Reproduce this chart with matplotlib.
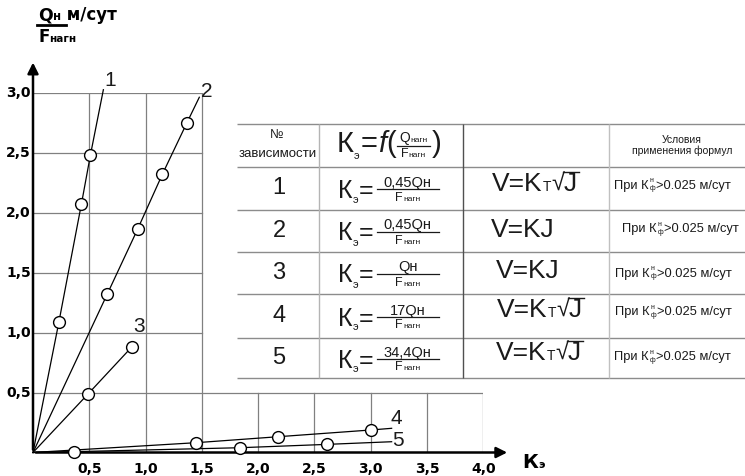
import numpy as np
import matplotlib.pyplot as plt

# -------- data --------
x_ticks = [0.5, 1.0, 1.5, 2.0, 2.5, 3.0, 3.5, 4.0]
x_labels = ['0,5', '1,0', '1,5', '2,0', '2,5', '3,0', '3,5', '4,0']
y_ticks = [0.5, 1.0, 1.5, 2.0, 2.5, 3.0]
y_labels = ['0,5', '1,0', '1,5', '2,0', '2,5', '3,0']

# measured points (Kэ, Qн/Fнагн)
k1 = [0.23, 0.43, 0.51]
q1 = [1.09, 2.075, 2.485]
k2 = [0.66, 0.93, 1.15, 1.365]
q2 = [1.324, 1.867, 2.326, 2.75]
k3 = [0.49, 0.876]
q3 = [0.49, 0.88]
k4 = [1.45, 2.18, 3.0]
q4 = [0.082, 0.132, 0.188]
k5 = [0.365, 1.84, 2.615]
q5 = [0.007, 0.04, 0.068]

# where each drawn line stops
end_k = [0.625, 1.477, 0.876, 3.185, 3.185]
end_q = [3.03, 2.967, 0.88, 0.202, 0.09]
curve_names = ['1', '2', '3', '4', '5']

# table contents
row_no = ['1', '2', '3', '4', '5']
ke_numer = ['0,45Qн', '0,45Qн', 'Qн', '17Qн', '34,4Qн']
v_root = [True, False, False, True, True]   # V=KT√J or V=KJ
cond_text = '>0.025 м/сут'

# -------- layout --------
fig = plt.figure(figsize=(7.45, 4.76), dpi=100)
ax = fig.add_axes([33 / 745, 23.5 / 476, 450.4 / 745, 359.2 / 476])
ax.set_xlim(0, 4)
ax.set_ylim(0, 3)
ax.axis('off')

ov = fig.add_axes([0, 0, 1, 1], zorder=3)
ov.set_xlim(0, 745)
ov.set_ylim(476, 0)
ov.axis('off')

r = fig.canvas.get_renderer()
tc = '#1a1a1a'
sans = ['Liberation Sans', 'DejaVu Sans']
heavy = 'DejaVu Sans'


def run(x, y, parts, center=False, **kw):
    items = []
    x0 = x
    for p in parts:
        s, size, dy = p[:3]
        extra = dict(kw)
        if len(p) > 3:
            extra.update(p[3])
        t = ov.text(x, y + dy, s, fontsize=size, va='baseline', ha='left', **extra)
        items.append(t)
        x += t.get_window_extent(r).width
    if center:
        half = (x - x0) / 2
        for t in items:
            t.set_x(t.get_position()[0] - half)
    return x


# -------- grid (L-shaped) --------
gc = '#808080'
for v in x_ticks:
    top = 3.0 if v <= 1.5 else 0.5
    ax.plot([v, v], [0, top], color=gc, lw=0.9, zorder=1)
for v in y_ticks:
    right = 4.0 if v <= 0.5 else 1.5
    ax.plot([0, right], [v, v], color=gc, lw=0.9, zorder=1)

# -------- axes with arrows --------
ax.annotate('', xy=(0, 3.28), xytext=(0, 0), annotation_clip=False,
            arrowprops=dict(arrowstyle='-|>', lw=1.8, color='black', mutation_scale=16))
ax.annotate('', xy=(4.236, 0), xytext=(0, 0), annotation_clip=False,
            arrowprops=dict(arrowstyle='-|>', lw=1.8, color='black', mutation_scale=16))

for v, s in zip(x_ticks, x_labels):
    ax.text(v, -0.14, s, ha='center', va='center', fontsize=10, fontweight='bold',
            family=heavy, clip_on=False)
for v, s in zip(y_ticks, y_labels):
    ax.text(-0.02, v, s, ha='right', va='center', fontsize=10, fontweight='bold',
            family=heavy, clip_on=False)

# -------- curves --------
ks = [k1, k2, k3, k4, k5]
qs = [q1, q2, q3, q4, q5]
for k, q, ek, eq in zip(ks, qs, end_k, end_q):
    ax.plot([0] + k + [ek], [0] + q + [eq], color='black', lw=0.9, clip_on=False, zorder=3)
    ax.plot(k, q, 'o', mfc='white', mec='black', ms=8.5, mew=1.0, clip_on=False, zorder=4)

label_pos = [(0.684, 3.105), (1.542, 3.013), (0.944, 1.05), (3.224, 0.286), (3.245, 0.099)]
for name, (lx, ly) in zip(curve_names, label_pos):
    ax.text(lx, ly, name, ha='center', va='center', fontsize=15, family=sans,
            color=tc, clip_on=False)

# -------- axis titles --------
run(38, 20.5, [('Q', 12.5, 0), ('н', 8.5, 0), (' м/сут', 12, 0)],
    fontweight='bold', family=heavy, color='black')
ov.plot([37, 66], [24.5, 24.5], color='black', lw=2)
run(38, 41.5, [('F', 12, 0), ('нагн', 7.5, 0)], fontweight='bold', family=heavy, color='black')
run(522, 468, [('К', 14, 0), ('э', 8, 0)], fontweight='bold', family=heavy, color='black')

# -------- table --------
row_lines = [124, 167, 210, 252, 294, 338, 378]
ov.fill_between([237, 745], 124, 378, color='white', zorder=0)
ov.hlines(row_lines, 237, 745, color='#8c8c8c', lw=1)
ov.vlines(319, 124, 378, color='#b4b4b4', lw=1)
ov.vlines(463, 124, 378, color='#505050', lw=1)
ov.vlines(609, 124, 378, color='#c0c0c0', lw=1)

# header
ov.text(277, 135, '№', ha='center', va='center', fontsize=9, family=sans, color=tc)
ov.text(278, 154, 'зависимости', ha='center', va='center', fontsize=9.5, family=sans, color=tc)
x = run(337, 152, [('К', 21, 0), ('э', 8, 7), (' ', 3, 0), ('=', 21, 0), (' ', 2, 0),
                   ('f', 21, 0, {'style': 'italic'}), ('(', 21, 0)], family=sans, color=tc)
ov.plot([x + 1, x + 34], [145.5, 145.5], color=tc, lw=0.9)
run(x + 17.5, 142, [('Q', 10, 0), ('нагн', 6, 0)], center=True, family=sans, color=tc)
run(x + 17.5, 157, [('F', 9, 0), ('нагн', 6, 0)], center=True, family=sans, color=tc)
ov.text(x + 36, 152, ')', fontsize=21, va='baseline', family=sans, color=tc)
ov.text(682, 140, 'Условия', ha='center', va='center', fontsize=7.5, family=sans, color=tc)
ov.text(682, 151, 'применения формул', ha='center', va='center', fontsize=7.5, family=sans, color=tc)

v_x = [492, 491, 496, 497, 496]
v_base = [191, 237, 278, 317, 360]
c_x = [614, 622, 615, 615, 614]
c_base = [189, 232, 277, 315.5, 360]
for i in range(5):
    yc = (row_lines[i + 1] + row_lines[i + 2]) / 2
    ov.text(279, yc, row_no[i], ha='center', va='center', fontsize=17, family=sans, color=tc)
    # Kэ = numerator / Fнагн
    x = run(338, yc + 9.5, [('К', 18, 0), ('э', 8, 5), (' ', 2, 0), ('=', 18, 0)],
            family=sans, color=tc)
    ov.plot([x + 3, 439], [yc + 0.5, yc + 0.5], color=tc, lw=0.9)
    xc = (x + 3 + 439) / 2
    run(xc, yc - 1.5, [(ke_numer[i], 10.5, 0)], center=True, family=sans, color=tc)
    run(xc, yc + 12.5, [('F', 9, 0), ('нагн', 6, 0)], center=True, family=sans, color=tc)
    # V formula
    b = v_base[i]
    if v_root[i]:
        x = run(v_x[i], b, [('V=K', 19, 0), ('T', 10, 0), (' ', 2, 0), ('√', 17, 0)],
                family=sans, color=tc)
        x2 = run(x - 1, b, [('J', 19, 0)], family=sans, color=tc)
        ov.plot([x - 1.5, x2 + 2], [b - 19, b - 19], color=tc, lw=1.0)
    else:
        run(v_x[i], b, [('V=KJ', 19, 0)], family=sans, color=tc)
    # condition
    x = run(c_x[i], c_base[i], [('При К', 9.3, 0)], family=sans, color=tc)
    x += 1
    ov.text(x, c_base[i] - 6.5, 'н', fontsize=5, va='baseline', family=sans, color=tc)
    t = ov.text(x, c_base[i] + 1.5, 'ф', fontsize=5, va='baseline', family=sans, color=tc)
    x += t.get_window_extent(r).width + 1
    run(x, c_base[i], [(cond_text, 9.3, 0)], family=sans, color=tc)

fig.savefig('out.png', dpi=100)
